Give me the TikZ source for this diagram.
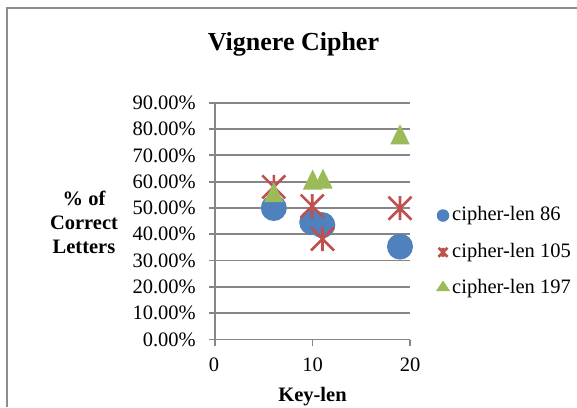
\documentclass[tikz,border=0pt]{standalone}
\usepackage{fontspec}
\setmainfont{Liberation Serif}
\definecolor{sblue}{HTML}{4F81BD}
\definecolor{sred}{HTML}{C0504D}
\definecolor{sgreen}{HTML}{9BBB59}
\definecolor{gridgray}{HTML}{868686}
\definecolor{framegray}{HTML}{8C8C8C}
\begin{document}
\begin{tikzpicture}[x=1pt,y=-1pt,
  gridline/.style={draw=gridgray, line width=1.8pt},
  ticklbl/.style={font=\fontsize{20.5}{24}\selectfont, inner sep=0pt},
  axtitle/.style={font=\bfseries\fontsize{20.5}{24}\selectfont, inner sep=0pt, align=center},
  dot/.style={circle, fill=sblue, minimum size=26pt, inner sep=0pt},
  legdot/.style={circle, fill=sblue, minimum size=12.5pt, inner sep=0pt},
  startick/.pic={\draw[sred, line width=2.6pt] (-11.5,-11.5) -- (11.5,11.5) (-11.5,11.5) -- (11.5,-11.5) (0,-12) -- (0,12);},
  legstar/.pic={\draw[sred, line width=2.6pt] (-4.5,-4.5) -- (4.5,4.5) (-4.5,4.5) -- (4.5,-4.5) (0,-4.5) -- (0,4.5);},
  tri/.pic={\fill[sgreen] (0,-10) -- (9.7,10) -- (-9.7,10) -- cycle;},
  legtri/.pic={\fill[sgreen] (0,-5.5) -- (7,5) -- (-7,5) -- cycle;}]
\useasboundingbox (0,0) rectangle (577,407);
\fill[white] (0,0) rectangle (577,407);
% outer frame
\draw[framegray, line width=2pt] (7,407) -- (7,8) -- (577,8);
% title
\node[font=\bfseries\fontsize{26}{30}\selectfont, inner sep=0pt, anchor=base] (title) at (293.5,50) {Vignere Cipher};
% grid and y labels
\foreach \i/\lab in {0/0.00,1/10.00,2/20.00,3/30.00,4/40.00,5/50.00,6/60.00,7/70.00,8/80.00,9/90.00}{
  \pgfmathsetmacro{\yy}{339.5-26.31*\i}
  \draw[gridline] (209,\yy) -- (410,\yy);
  \node[ticklbl, anchor=east] (yl\i) at (196,\yy) {\lab\%};
}
% y axis and x ticks
\draw[gridline] (215,102.7) -- (215,345.5);
\draw[gridline] (312.5,339.5) -- (312.5,345.5);
\draw[gridline] (410,339.5) -- (410,345.5);
% x labels
\node[ticklbl] (x0) at (214,365) {0};
\node[ticklbl] (x10) at (312.5,365) {10};
\node[ticklbl] (x20) at (410,365) {20};
% axis titles
\node[axtitle, anchor=base] (xt) at (312.5,401.5) {Key-len};
\node[axtitle] (yt) at (84,222) {\% of\\Correct\\Letters};
% series cipher-len 86
\node[dot] (b1) at (273.8,208) {};
\node[dot] (b2) at (312.2,222.2) {};
\node[dot] (b3) at (322.3,225.1) {};
\node[dot] (b4) at (400,246.6) {};
% series cipher-len 105
\coordinate (r1) at (273.8,186.9);
\coordinate (r2) at (312.2,206.1);
\coordinate (r3) at (322.5,239);
\coordinate (r4) at (400,208.2);
\foreach \c in {r1,r2,r3,r4} \pic at (\c) {startick};
% series cipher-len 197
\coordinate (g1) at (273.8,192.2);
\coordinate (g2) at (312.6,179.5);
\coordinate (g3) at (323,178.7);
\coordinate (g4) at (400,134.3);
\foreach \c in {g1,g2,g3,g4} \pic at (\c) {tri};
% legend
\node[legdot] (lb) at (443,215.5) {};
\coordinate (lr) at (443,252.3);
\pic at (lr) {legstar};
\coordinate (lg) at (443,286);
\pic at (lg) {legtri};
\node[ticklbl, anchor=west] (lbt) at (452,215.5) {cipher-len 86};
\node[ticklbl, anchor=west] (lrt) at (452,252.3) {cipher-len 105};
\node[ticklbl, anchor=west] (lgt) at (452,288.5) {cipher-len 197};
\end{tikzpicture}
\end{document}
